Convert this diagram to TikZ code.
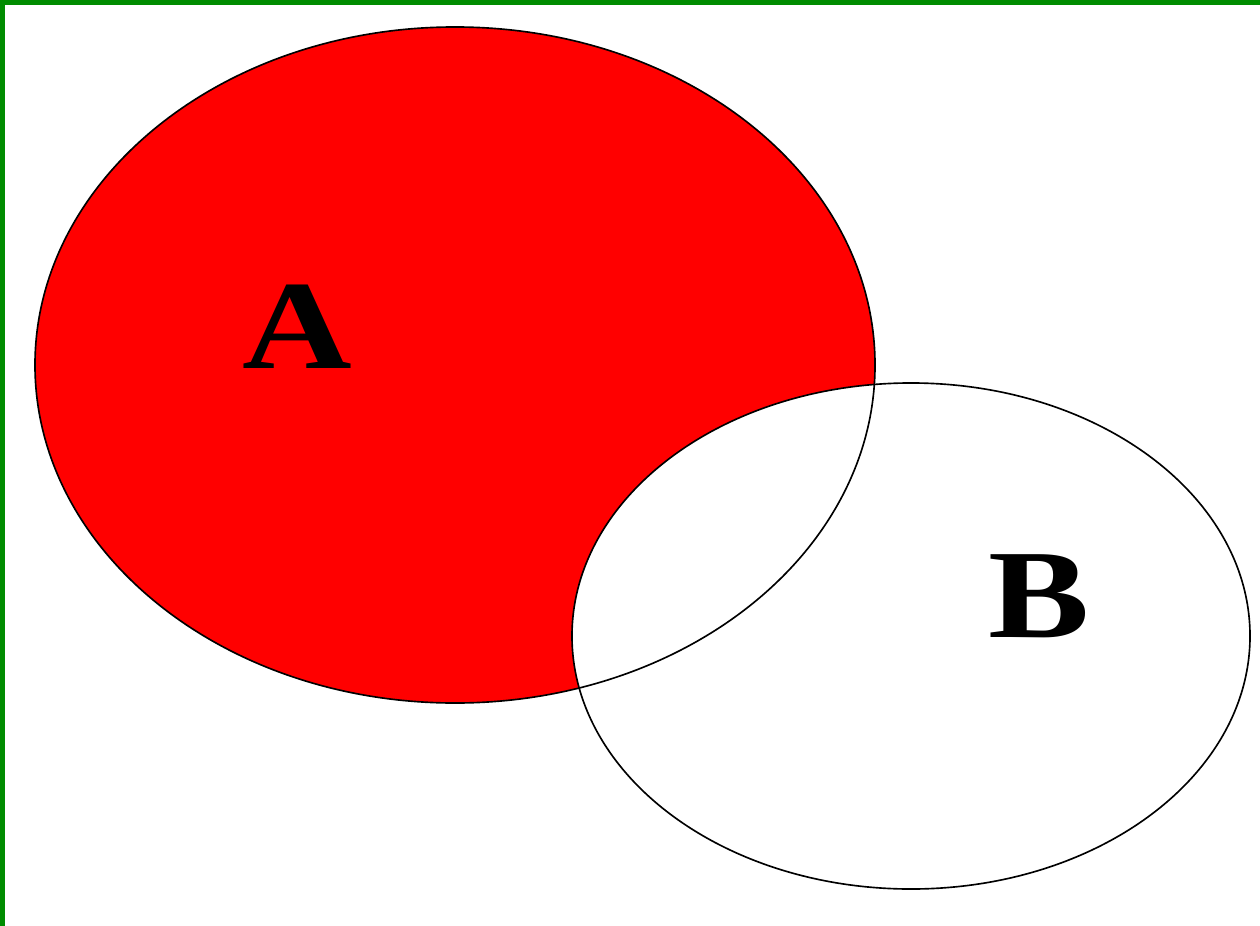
\documentclass[tikz,border=0pt]{standalone}
\usepackage{fontspec}
\setmainfont{Liberation Serif}
\definecolor{borderg}{RGB}{0,140,0}
\definecolor{setred}{RGB}{255,0,0}
\tikzset{
  setline/.style={draw=black, line width=1.4pt},
  setlabel/.style={font=\fontsize{108}{108}\selectfont\bfseries, inner sep=0pt, anchor=base}
}
\begin{document}
\begin{tikzpicture}[x=0.03cm,y=-0.03cm]
\useasboundingbox (0,0) rectangle (1260,926);
\fill[white] (0,0) rectangle (1260,926);
% green frame (top and left)
\fill[borderg] (0,0) rectangle (1260,5);
\fill[borderg] (0,0) rectangle (5,926);
\coordinate (cA) at (455,365);
\coordinate (cB) at (911,636);
% set A filled red
\fill[setred] (cA) ellipse [x radius=12.6cm, y radius=10.14cm];
% set B white on top
\fill[white] (cB) ellipse [x radius=10.17cm, y radius=7.59cm];
% outlines
\draw[setline] (cA) ellipse [x radius=12.6cm, y radius=10.14cm];
\draw[setline] (cB) ellipse [x radius=10.17cm, y radius=7.59cm];
% labels
\node[setlabel] (lA) at (297,368) {\scalebox{1.2}[1]{A}};
\node[setlabel] (lB) at (1039,637) {\scalebox{1.2}[1]{B}};
\end{tikzpicture}
\end{document}
